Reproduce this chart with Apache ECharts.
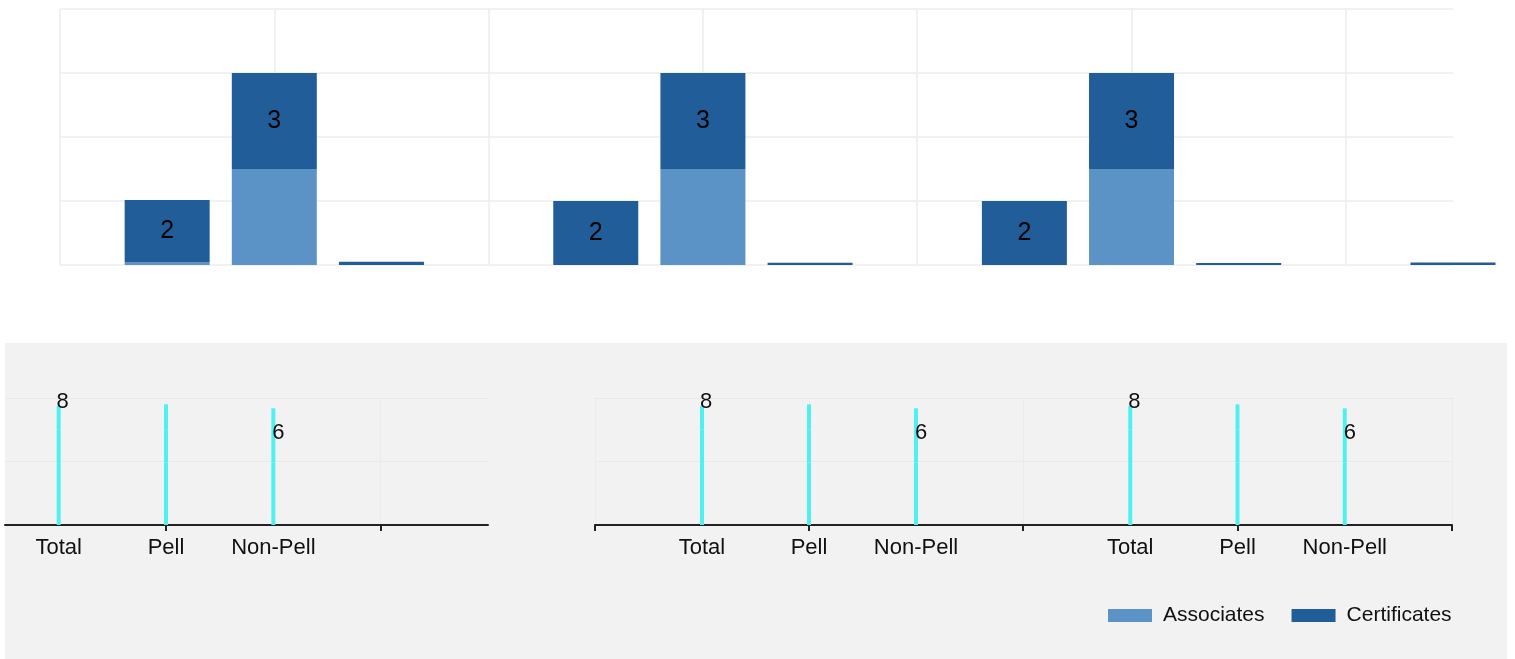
<!DOCTYPE html>
<html><head><meta charset="utf-8">
<script src="https://cdn.jsdelivr.net/npm/echarts@6/dist/echarts.min.js"></script>
<style>html,body{margin:0;padding:0;background:#fff}#c{width:1515px;height:659px}</style>
</head><body><div id="c"></div>
<script>
// ---- top panel data (14 slots) ----
const topSlots = ['s0','s1','s2','s3','s4','s5','s6','s7','s8','s9','s10','s11','s12','s13'];
const associates   = [0, 0.08, 3, 0, 0, 0, 3, 0, 0, 0, 3, 0, 0, 0];
const certificates = [-0.1, 1.95, 3, 0.1, -0.05, 2, 3, 0.07, 0, 2, 3, 0.06, 0, 0.08];
const certLabels   = ['', '2', '3', '', '', '2', '3', '', '', '2', '3', '', '', ''];
// ---- bottom panels ----
const groups = ['Total', 'Pell', 'Non-Pell'];
// first panel uses half-slot categories so it can start part-way into a slot
const panel1Cats = ['', 'Total', '', 'Pell', '', 'Non-Pell', '', '', '', ''];
const panel1Pos  = [1, 3, 5];
const panelCats  = ['', 'Total', 'Pell', 'Non-Pell', ''];
const panelPos   = [1, 2, 3];
const segLow = [3.9, 3.95, 3.95];
const segMid = [2.1, 2.05, 2.05];
const segTop = [1.5, 1.6, 1.35];
const bottomLabels = ['8', '', '6'];

const FONT = 'Liberation Sans';
const cyan = '#4ff0f0';
const chart = echarts.init(document.getElementById('c'));

const grids = [
  {left: 60, right: 62, top: 9, bottom: 394},
  {left: 5, right: 1027, top: 398, bottom: 134},
  {left: 595, right: 492, top: 398, bottom: 134},
  {left: 1023, right: 63, top: 398, bottom: 134}
];
const axisLineStyle = {color: '#222', width: 2};
const labelStyle = {color: '#111', fontSize: 22, fontFamily: FONT, margin: 12};
const xAxes = [{
  type: 'category', gridIndex: 0, data: topSlots, boundaryGap: false,
  axisLine: {show: false}, axisTick: {show: false}, axisLabel: {show: false},
  splitLine: {show: true, interval: 1, lineStyle: {color: '#ececec', width: 1.5}}
}, {
  type: 'category', gridIndex: 1, data: panel1Cats, boundaryGap: false,
  axisLine: {show: true, lineStyle: axisLineStyle},
  axisTick: {show: true, interval: i => i % 4 === 3, length: 6, lineStyle: axisLineStyle},
  axisLabel: Object.assign({show: true, interval: 0}, labelStyle),
  splitLine: {show: true, interval: i => i % 4 === 3, lineStyle: {color: '#ebebeb'}}
}];
const yAxes = [{
  type: 'value', gridIndex: 0, min: 0, max: 8, interval: 2,
  axisLine: {show: false}, axisTick: {show: false}, axisLabel: {show: false},
  splitLine: {lineStyle: {color: '#ececec', width: 1.5}}
}];
for (let g = 1; g < 3; g++) {
  xAxes.push({
    type: 'category', gridIndex: g + 1, data: panelCats, boundaryGap: false,
    axisLine: {show: true, lineStyle: axisLineStyle},
    axisTick: {show: true, interval: 1, length: 6, lineStyle: axisLineStyle},
    axisLabel: Object.assign({show: true, interval: 0}, labelStyle),
    splitLine: {show: true, interval: 1, lineStyle: {color: '#ebebeb'}}
  });
}
for (let g = 0; g < 3; g++) {
  yAxes.push({
    type: 'value', gridIndex: g + 1, min: 0, max: 8, interval: 4,
    axisLine: {show: false}, axisTick: {show: false}, axisLabel: {show: false},
    splitLine: {lineStyle: {color: '#e9e9e9'}}
  });
}

const series = [
  {
    name: 'Associates', type: 'bar', stack: 'top', xAxisIndex: 0, yAxisIndex: 0,
    data: associates, barWidth: 85, itemStyle: {color: '#5b93c6'}
  },
  {
    name: 'Certificates', type: 'bar', stack: 'top', xAxisIndex: 0, yAxisIndex: 0,
    data: certificates, barWidth: 85, itemStyle: {color: '#215e99'},
    label: {show: true, position: 'inside', color: '#000', fontSize: 25, fontFamily: FONT,
      formatter: p => certLabels[p.dataIndex]}
  }
];

const lblEight = {show: true, position: 'top', distance: 0, offset: [4, 7],
  formatter: bottomLabels[0], fontSize: 22, fontFamily: FONT, color: '#111'};
const lblSix = {show: true, position: 'top', distance: 0, offset: [5, 14],
  formatter: bottomLabels[2], fontSize: 22, fontFamily: FONT, color: '#111'};

function build(vals, cats, pos, labelIdx, lbl) {
  const arr = new Array(cats.length).fill(null);
  vals.forEach((v, i) => { arr[pos[i]] = (i === labelIdx) ? {value: v, label: lbl} : v; });
  return arr;
}
for (let g = 0; g < 3; g++) {
  const cats = g === 0 ? panel1Cats : panelCats;
  const pos = g === 0 ? panel1Pos : panelPos;
  const common = {type: 'bar', stack: 'b' + g, xAxisIndex: g + 1, yAxisIndex: g + 1,
    itemStyle: {color: cyan}};
  series.push(Object.assign({name: 'lower', data: build(segLow, cats, pos, -1, null), barWidth: 4}, common));
  series.push(Object.assign({name: 'middle', data: build(segMid, cats, pos, 2, lblSix), barWidth: 3}, common));
  series.push(Object.assign({name: 'upper', data: build(segTop, cats, pos, 0, lblEight), barWidth: 2}, common));
}

chart.setOption({
  animation: false,
  backgroundColor: '#ffffff',
  graphic: [{type: 'rect', z: -10, silent: true,
    shape: {x: 5, y: 343, width: 1502, height: 316}, style: {fill: '#f2f2f2'}}],
  grid: grids,
  xAxis: xAxes,
  yAxis: yAxes,
  legend: {
    data: ['Associates', 'Certificates'], left: 1103, top: 600,
    icon: 'rect', itemWidth: 44, itemHeight: 13, itemGap: 27,
    textStyle: {fontSize: 21, color: '#111', fontFamily: FONT, padding: [0, 0, 0, 6]}
  },
  series: series
});
</script></body></html>
